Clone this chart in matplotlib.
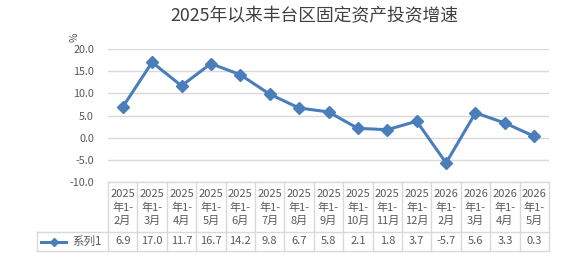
import matplotlib.pyplot as plt
import matplotlib.lines as mlines

plt.rcParams['font.family'] = ['Noto Sans CJK SC', 'DejaVu Sans']

# data
periods = ["2025\n年1-\n2月", "2025\n年1-\n3月", "2025\n年1-\n4月", "2025\n年1-\n5月",
           "2025\n年1-\n6月", "2025\n年1-\n7月", "2025\n年1-\n8月", "2025\n年1-\n9月",
           "2025\n年1-\n10月", "2025\n年1-\n11月", "2025\n年1-\n12月", "2026\n年1-\n2月",
           "2026\n年1-\n3月", "2026\n年1-\n4月", "2026\n年1-\n5月"]
growth = [6.9, 17.0, 11.7, 16.7, 14.2, 9.8, 6.7, 5.8, 2.1, 1.8, 3.7, -5.7, 5.6, 3.3, 0.3]
series_name = "系列1"
title = "2025年以来丰台区固定资产投资增速"

W, H = 561, 263
blue = "#4a7ebb"
grey_txt = "#595959"
grid_c = "#d9d9d9"

n = len(growth)
fig = plt.figure(figsize=(W / 100, H / 100), dpi=100)

# plot area in pixels
px_l, px_r, px_t, px_b = 108, 549, 49, 182
ax = fig.add_axes([px_l / W, 1 - px_b / H, (px_r - px_l) / W, (px_b - px_t) / H])
x = list(range(n))
ax.plot(x, growth, color=blue, lw=2.2, marker="D", ms=6.5, zorder=3)
ax.set_xlim(-0.5, n - 0.5)
ax.set_ylim(-10, 20)
ax.set_yticks(range(-10, 21, 5))
ax.set_yticklabels([f"{v:.1f}" for v in range(-10, 21, 5)], color=grey_txt, fontsize=7.8)
ax.tick_params(axis="y", length=0, pad=10)
ax.set_xticks([])
ax.grid(axis="y", color=grid_c, lw=1)
for s in ax.spines.values():
    s.set_visible(False)

fig.text(314 / W, 1 - 16 / H, title, ha="center", va="center", fontsize=12.8, color="#404040")
fig.text(75 / W, 1 - 37 / H, "%", rotation=90, ha="center", va="center", fontsize=7.5, color=grey_txt)

# data table
col_w = (px_r - px_l) / n
tb_l, tb_t, tb_mid, tb_b = 37, 182, 232, 251
tax = fig.add_axes([tb_l / W, 1 - tb_b / H, (px_r - tb_l) / W, (tb_b - tb_t) / H])
tax.set_xlim(-0.5 - (px_l - tb_l) / col_w, n - 0.5)
tax.set_ylim(tb_b - tb_t, 0)
tax.axis("off")
left_x = -0.5 - (px_l - tb_l) / col_w
mid = tb_mid - tb_t
bot = tb_b - tb_t
lk = dict(color=grid_c, lw=1, clip_on=False)
tax.plot([-0.5, n - 0.5], [0, 0], **lk)
tax.plot([left_x, n - 0.5], [mid, mid], **lk)
tax.plot([left_x, n - 0.5], [bot, bot], **lk)
for i in range(n + 1):
    tax.plot([i - 0.5, i - 0.5], [0, bot], **lk)
tax.plot([left_x, left_x], [mid, bot], **lk)

for i, (lab, v) in enumerate(zip(periods, growth)):
    tax.text(i, mid / 2 + 0.5, lab, ha="center", va="center", fontsize=8, color=grey_txt,
             linespacing=1.4)
    tax.text(i, (mid + bot) / 2, f"{v:.1f}", ha="center", va="center", fontsize=8, color=grey_txt)

# legend key inside the table
ky = 1 - ((tb_mid + tb_b) / 2) / H
fig.add_artist(mlines.Line2D([41 / W, 66 / W], [ky, ky], color=blue, lw=2.2,
                             transform=fig.transFigure))
fig.add_artist(mlines.Line2D([54 / W], [ky], color=blue, marker="D", ms=4.5,
                             transform=fig.transFigure))
fig.text(87 / W, ky, series_name, ha="center", va="center", fontsize=8.3, color=grey_txt)

fig.savefig("out.png", dpi=100)
